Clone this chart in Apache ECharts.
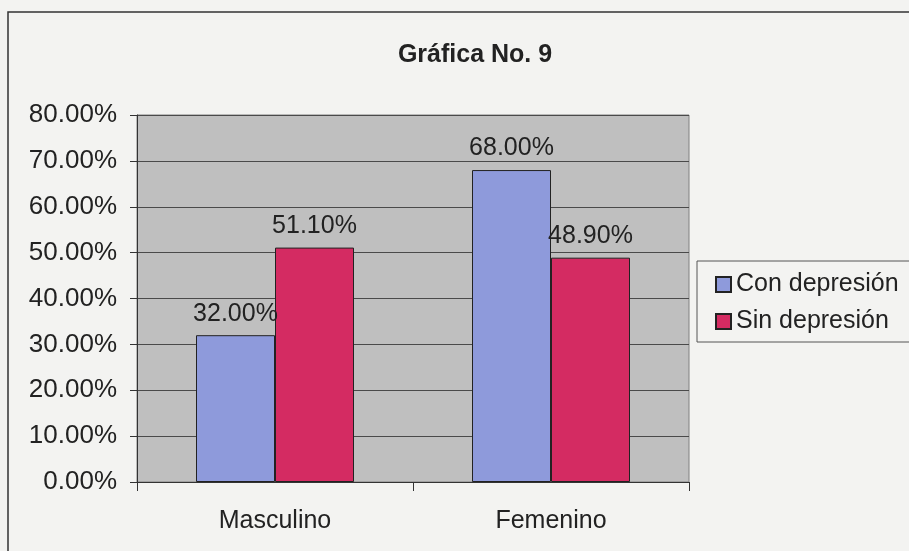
<!DOCTYPE html>
<html>
<head>
<meta charset="utf-8">
<script src="https://cdn.jsdelivr.net/npm/echarts@6/dist/echarts.min.js"></script>
<style>
  html, body { margin: 0; padding: 0; background: #f3f3f1; }
  #chart { width: 909px; height: 551px; }
</style>
</head>
<body>
<div id="chart"></div>
<script>
var categories = ["Masculino", "Femenino"];
var conDepresion = [32.0, 68.0];
var sinDepresion = [51.1, 48.9];
var seriesNames = ["Con depresión", "Sin depresión"];

var font = "'Liberation Sans', Arial, sans-serif";
var myChart = echarts.init(document.getElementById("chart"));
var option = {
  backgroundColor: "#f3f3f1",
  animation: false,
  title: {
    text: "Gráfica No. 9",
    left: 470,
    top: 38,
    textAlign: "center",
    textStyle: { fontFamily: font, fontSize: 25, fontWeight: "bold", color: "#222" },
  },
  graphic: [
    {
      type: "rect",
      shape: { x: 8, y: 12, width: 920, height: 560 },
      style: { fill: null, stroke: "#333", lineWidth: 1.5 },
      z: 100,
    },
  ],
  legend: {
    orient: "vertical",
    left: 697,
    top: 261,
    padding: [9, 30, 6, 18],
    itemGap: 8,
    itemWidth: 15,
    itemHeight: 15,
    borderColor: "#555",
    borderWidth: 1,
    icon: "rect",
    data: seriesNames,
    textStyle: { fontFamily: font, fontSize: 25, lineHeight: 29, color: "#222", padding: [0, 0, 0, 0] },
  },
  grid: {
    left: 137,
    right: 220,
    top: 115,
    bottom: 69,
    show: true,
    backgroundColor: "#bfbfbf",
    borderColor: "#808080",
    borderWidth: 1,
  },
  xAxis: {
    type: "category",
    data: categories,
    axisLine: { lineStyle: { color: "#333", width: 1 } },
    axisTick: { show: true, length: 9, lineStyle: { color: "#333" } },
    axisLabel: { margin: 27, fontFamily: font, fontSize: 25, color: "#222" },
  },
  yAxis: {
    type: "value",
    min: 0,
    max: 80,
    interval: 10,
    axisLine: { show: true, lineStyle: { color: "#333", width: 1 } },
    axisTick: { show: true, length: 7, lineStyle: { color: "#333" } },
    splitLine: { lineStyle: { color: "#4a4a4a", width: 1 } },
    axisLabel: {
      margin: 20,
      fontFamily: font,
      fontSize: 26,
      color: "#222",
      formatter: function (v) {
        return v.toFixed(2) + "%";
      },
    },
  },
  series: [
    {
      name: seriesNames[0],
      type: "bar",
      data: conDepresion,
      barWidth: 79,
      barGap: "0%",
      itemStyle: { color: "#8e9adb", borderColor: "#222", borderWidth: 1 },
      label: {
        show: true,
        position: "top",
        distance: 9,
        fontFamily: font,
        fontSize: 25,
        color: "#222",
        formatter: function (p) {
          return p.value.toFixed(2) + "%";
        },
      },
    },
    {
      name: seriesNames[1],
      type: "bar",
      data: sinDepresion,
      barWidth: 79,
      barGap: "0%",
      itemStyle: { color: "#d42b62", borderColor: "#222", borderWidth: 1 },
      label: {
        show: true,
        position: "top",
        distance: 9,
        fontFamily: font,
        fontSize: 25,
        color: "#222",
        formatter: function (p) {
          return p.value.toFixed(2) + "%";
        },
      },
    },
  ],
};
myChart.setOption(option, true);
window.addEventListener("resize", function () {
  myChart.resize();
});
</script>
</body>
</html>
